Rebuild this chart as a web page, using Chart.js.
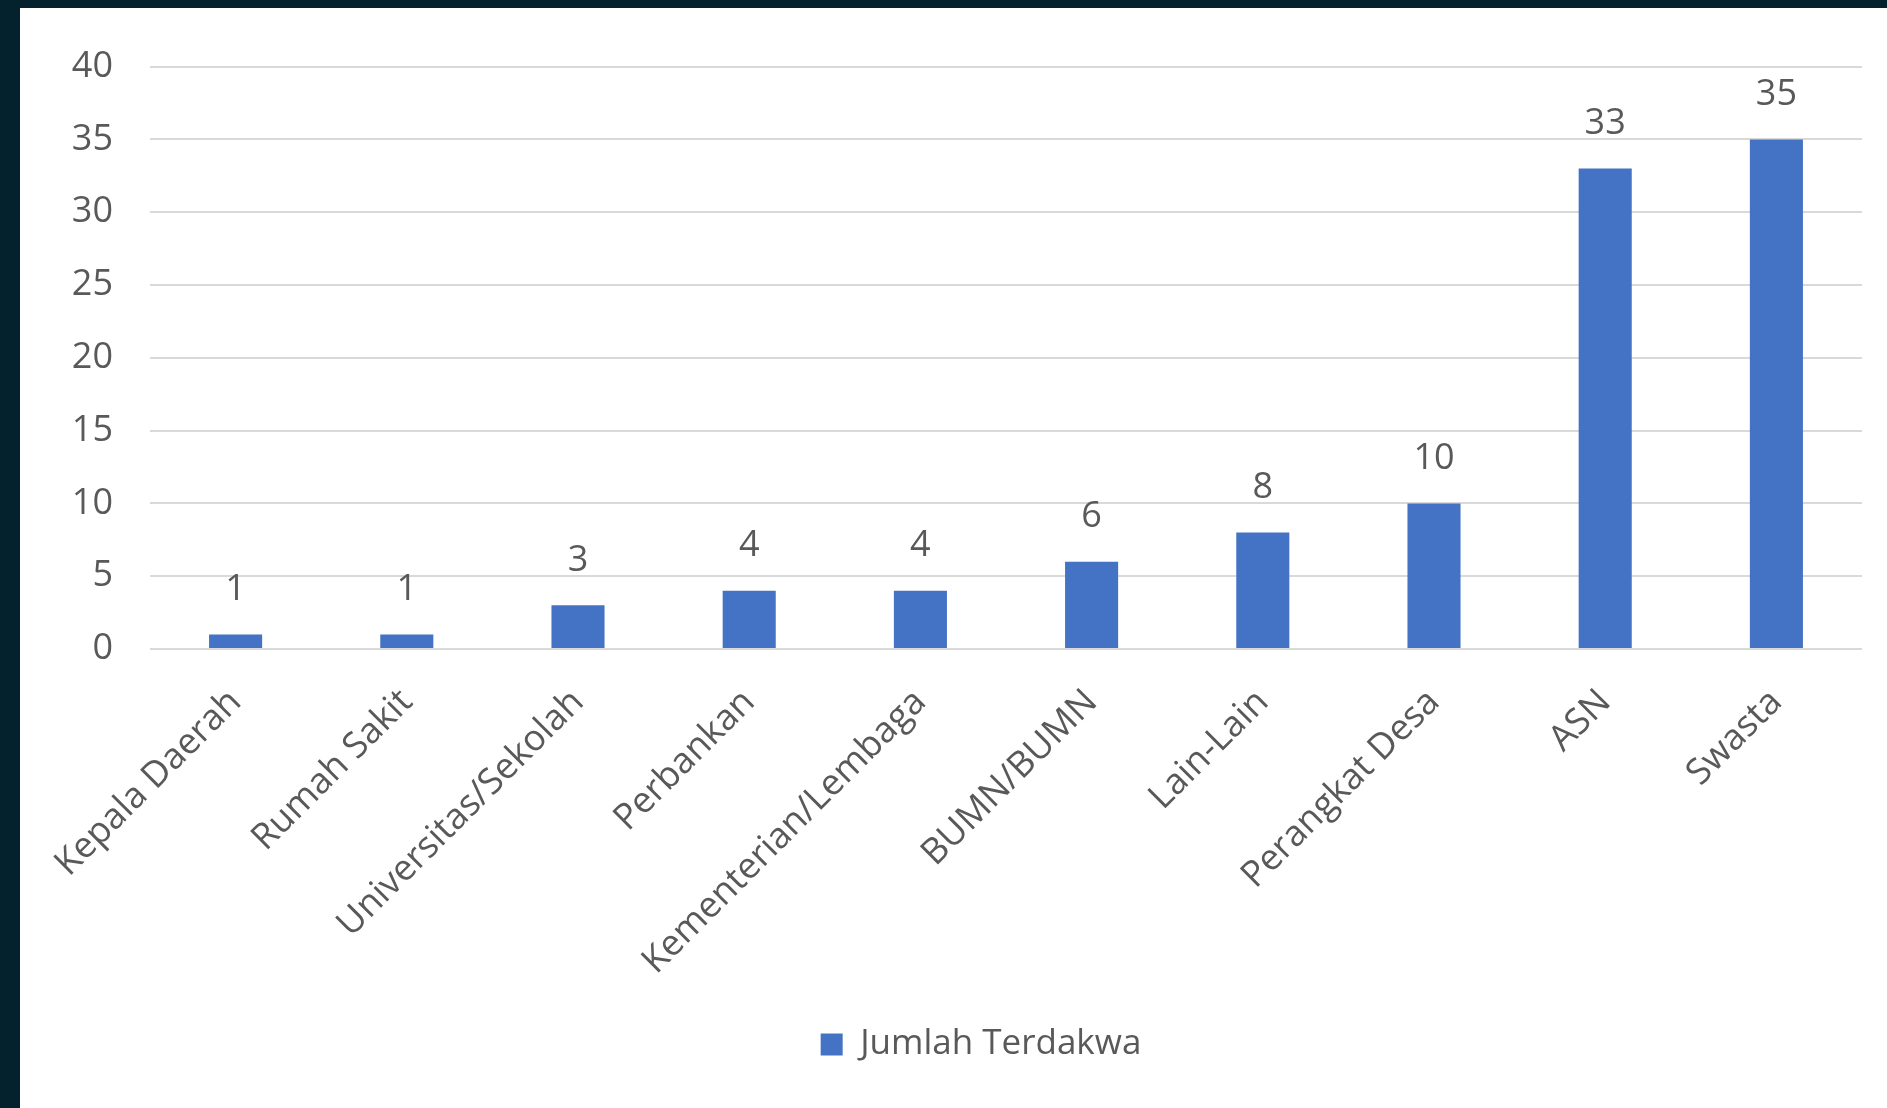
<!DOCTYPE html>
<html>
<head>
<meta charset="utf-8">
<title>Jumlah Terdakwa</title>
<script src="https://cdn.jsdelivr.net/npm/chart.js@4.4.0/dist/chart.umd.min.js"></script>
<style>
    html, body { margin: 0; padding: 0; background: #03222e; overflow: hidden; }
    #wrap { position: absolute; left: 20px; top: 8px; width: 1867px; height: 1100px; background: #ffffff; }
</style>
</head>
<body>
<div id="wrap"><canvas id="chart"></canvas></div>
<script>
const categories = ['Kepala Daerah', 'Rumah Sakit', 'Universitas/Sekolah', 'Perbankan', 'Kementerian/Lembaga',
    'BUMN/BUMN', 'Lain-Lain', 'Perangkat Desa', 'ASN', 'Swasta'];
const jumlahTerdakwa = [1, 1, 3, 4, 4, 6, 8, 10, 33, 35];
const yTicks = [0, 5, 10, 15, 20, 25, 30, 35, 40];

const textColor = '#595959';
const barColor = '#4472c4';

Chart.defaults.font.family = "'Open Sans', sans-serif";
Chart.defaults.color = textColor;

// value above each bar
const barValueLabels = {
    id: 'barValueLabels',
    afterDatasetsDraw(chart) {
        const ctx = chart.ctx;
        const meta = chart.getDatasetMeta(0);
        ctx.save();
        ctx.font = "36px 'Open Sans'";
        ctx.fillStyle = textColor;
        ctx.textAlign = 'center';
        ctx.textBaseline = 'middle';
        meta.data.forEach((bar, i) => {
            ctx.fillText(jumlahTerdakwa[i], bar.x, bar.y - 45);
        });
        ctx.restore();
    }
};

// legend sits a bit right of centre in the original
const nudgeLegend = {
    id: 'nudgeLegend',
    afterLayout(chart) {
        if (chart.legend) {
            chart.legend.left += 40;
            chart.legend.right += 40;
        }
    }
};

const ctx = document.getElementById('chart').getContext('2d');
new Chart(ctx, {
    type: 'bar',
    data: {
        labels: categories,
        datasets: [{
            label: 'Jumlah Terdakwa',
            data: jumlahTerdakwa,
            backgroundColor: barColor,
            borderWidth: 0,
            barPercentage: 0.31,
            categoryPercentage: 1
        }]
    },
    options: {
        responsive: true,
        maintainAspectRatio: false,
        animation: false,
        layout: {
            padding: { top: 58, right: 25, bottom: 36, left: 0 }
        },
        scales: {
            y: {
                min: yTicks[0],
                max: yTicks[yTicks.length - 1],
                ticks: {
                    stepSize: yTicks[1] - yTicks[0],
                    padding: 37,
                    font: { size: 36 },
                    color: textColor
                },
                grid: {
                    drawTicks: false,
                    color: '#d9d9d9',
                    lineWidth: 2
                },
                border: { display: false },
                afterFit: (scale) => { scale.width = 130; }
            },
            x: {
                grid: { display: false },
                border: { display: false },
                ticks: {
                    minRotation: 45,
                    maxRotation: 45,
                    padding: 24,
                    font: { size: 36 },
                    color: textColor
                },
                afterFit: (scale) => { scale.height = 368; }
            }
        },
        plugins: {
            legend: {
                position: 'bottom',
                labels: {
                    boxWidth: 22,
                    boxHeight: 22,
                    padding: 10,
                    font: { size: 35 },
                    color: textColor
                }
            },
            tooltip: { enabled: false }
        }
    },
    plugins: [barValueLabels, nudgeLegend]
});
</script>
</body>
</html>
